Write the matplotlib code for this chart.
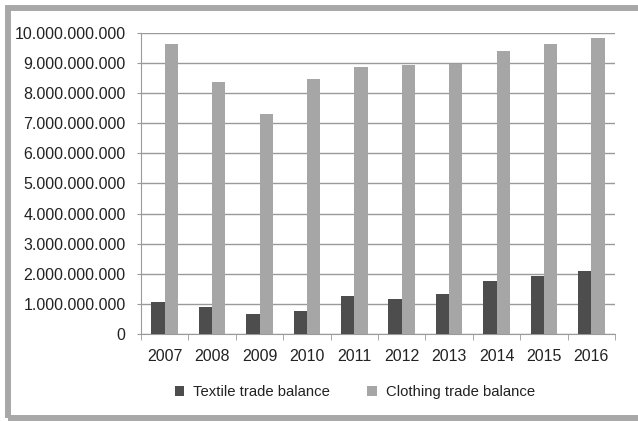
import numpy as np
import matplotlib.pyplot as plt
from matplotlib.patches import Rectangle
from matplotlib.ticker import FuncFormatter, MultipleLocator

# datos: balanza comercial textil y confección (EUR)
anios = ["2007", "2008", "2009", "2010", "2011", "2012", "2013", "2014", "2015", "2016"]
textil = [1.06e9, 0.90e9, 0.67e9, 0.77e9, 1.27e9, 1.17e9, 1.32e9, 1.75e9, 1.94e9, 2.10e9]
confeccion = [9.63e9, 8.38e9, 7.30e9, 8.46e9, 8.87e9, 8.93e9, 8.96e9, 9.41e9, 9.62e9, 9.83e9]

plt.rcParams['font.family'] = ['Liberation Sans', 'DejaVu Sans']

fig = plt.figure(figsize=(6.38, 4.21), dpi=100)
ax = fig.add_axes([0.221, 0.2067, 0.743, 0.715])

# marco gris alrededor del grafico
fig.patches.append(Rectangle((0.0118, 0.006), 1.2, 0.975, transform=fig.transFigure,
                             fill=False, edgecolor='#a8a8a8', linewidth=4.3))

x = np.arange(len(anios))
ancho = 0.28
ax.bar(x - ancho / 2, textil, ancho, color='#4d4d4d', label='Textile trade balance', zorder=3)
ax.bar(x + ancho / 2, confeccion, ancho, color='#a6a6a6', label='Clothing trade balance', zorder=3)

ax.set_xlim(-0.5, len(anios) - 0.5)
ax.set_ylim(0, 1e10)
ax.yaxis.set_major_locator(MultipleLocator(1e9))
ax.yaxis.set_major_formatter(FuncFormatter(lambda v, p: f"{int(round(v)):,}".replace(",", ".")))
ax.grid(axis='y', color='#9a9a9a', linewidth=1, zorder=0)

ax.set_xticks(x)
ax.set_xticklabels(anios)
ax.set_xticks(np.arange(-0.5, len(anios)), minor=True)
ax.tick_params(axis='x', which='major', length=0, pad=10.5, labelsize=11.5, labelcolor='#222222')
ax.tick_params(axis='x', which='minor', length=4, color='#9a9a9a', direction='out')
ax.tick_params(axis='y', length=3, color='#9a9a9a', pad=8, labelsize=11.5, labelcolor='#222222')

for lado in ['top', 'right']:
    ax.spines[lado].set_visible(False)
ax.spines['left'].set_color('#9a9a9a')
ax.spines['bottom'].set_color('#9a9a9a')

fig.legend(loc='center', bbox_to_anchor=(0.556, 0.069), ncol=2, frameon=False,
           fontsize=10.7, handlelength=0.65, handleheight=0.65, handletextpad=0.6,
           columnspacing=2.5, labelcolor='#222222')

fig.savefig('out.png', dpi=100)
